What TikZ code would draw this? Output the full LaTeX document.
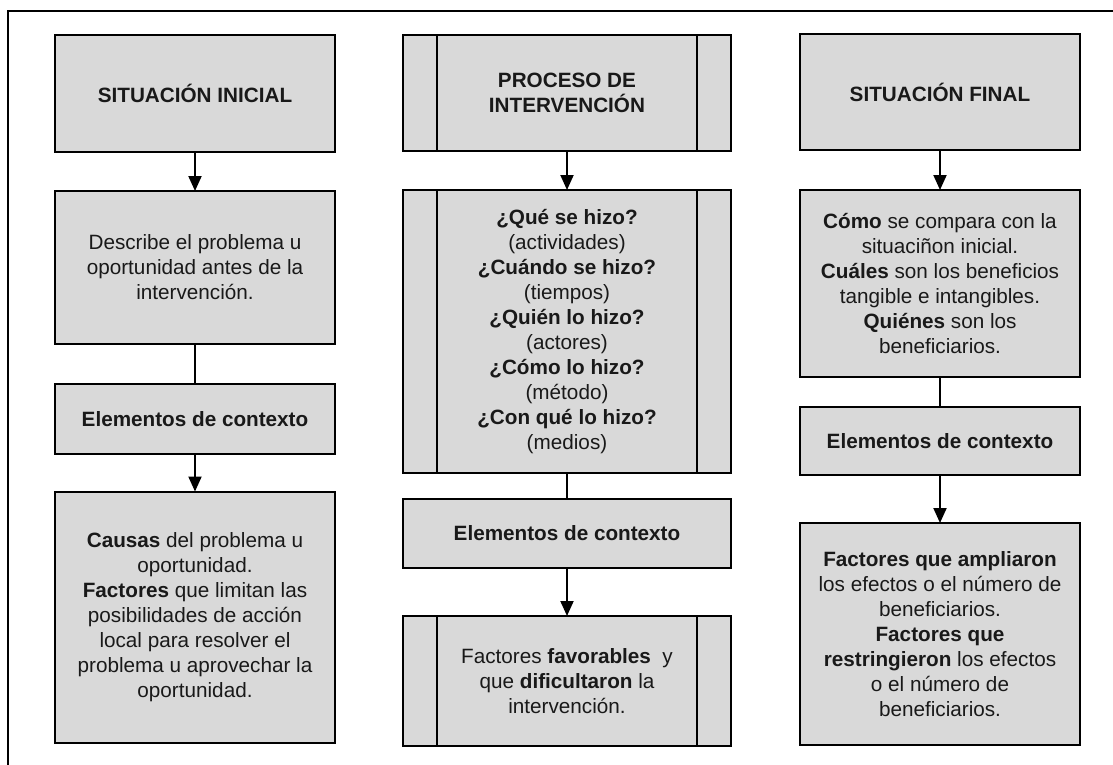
\documentclass[tikz,border=0pt]{standalone}
\usepackage{fontspec}
\setmainfont{Liberation Sans}
\usetikzlibrary{arrows.meta}
\definecolor{boxgray}{RGB}{217,217,217}
\definecolor{textcol}{RGB}{25,25,25}
\begin{document}
\begin{tikzpicture}[x=1pt,y=-1pt,
  box/.style={draw=black, line width=2pt, fill=boxgray, outer sep=0pt, inner sep=0pt,
    align=center, text=textcol, font=\fontsize{20.7}{25}\selectfont},
  narrow/.style={box, minimum width=280pt},
  plainwide/.style={box, minimum width=328pt},
  wide/.style={box, minimum width=328pt,
    path picture={
      \draw[line width=2pt] ([xshift=34pt]path picture bounding box.north west) -- ([xshift=34pt]path picture bounding box.south west);
      \draw[line width=2pt] ([xshift=-34pt]path picture bounding box.north east) -- ([xshift=-34pt]path picture bounding box.south east);
    }},
  arr/.style={line width=2pt, -{Triangle[length=15pt,width=13pt]}},
  conn/.style={line width=2pt}]
\useasboundingbox (0,0) rectangle (1113,765);
\clip (0,0) rectangle (1113,765);
\fill[white] (0,0) rectangle (1113,765);
\draw[line width=1.8pt] (8,800) -- (8,11) -- (1150,11);

% Column 1
\node[narrow, minimum height=117pt] (s1) at (195,93.5) {\textbf{SITUACIÓN INICIAL}};
\node[narrow, minimum height=153pt] (s2) at (195,267.5) {Describe el problema u\\oportunidad antes de la\\intervención.};
\node[narrow, minimum height=70pt] (s3) at (195,419) {\textbf{Elementos de contexto}};
\node[narrow, minimum height=251pt] (s4) at (195,617) {\textbf{Causas} del problema u\\oportunidad.\\\textbf{Factores} que limitan las\\posibilidades de acción\\local para resolver el\\problema u aprovechar la\\oportunidad.};

% Column 2
\node[wide, minimum height=116pt] (p1) at (567,93) {\textbf{PROCESO DE}\\\textbf{INTERVENCIÓN}};
\node[wide, minimum height=283pt] (p2) at (567,331.5) {\textbf{¿Qué se hizo?}\\(actividades)\\\textbf{¿Cuándo se hizo?}\\(tiempos)\\\textbf{¿Quién lo hizo?}\\(actores)\\\textbf{¿Cómo lo hizo?}\\(método)\\\textbf{¿Con qué lo hizo?}\\(medios)};
\node[plainwide, minimum height=69pt] (p3) at (567,533.5) {\textbf{Elementos de contexto}};
\node[wide, minimum height=130pt] (p4) at (567,681) {Factores \textbf{favorables}\ \ y\\que \textbf{dificultaron} la\\intervención.};

% Column 3
\node[narrow, minimum height=116pt] (f1) at (940,92) {\textbf{SITUACIÓN FINAL}};
\node[narrow, minimum height=187pt] (f2) at (940,283.5) {\textbf{Cómo} se compara con la\\situaciñon inicial.\\\textbf{Cuáles} son los beneficios\\tangible e intangibles.\\\textbf{Quiénes} son los\\beneficiarios.};
\node[narrow, minimum height=68pt] (f3) at (940,441) {\textbf{Elementos de contexto}};
\node[narrow, minimum height=222pt] (f4) at (940,634) {\textbf{Factores que ampliaron}\\los efectos o el número de\\beneficiarios.\\\textbf{Factores que}\\\textbf{restringieron} los efectos\\o el número de\\beneficiarios.};

% Connectors
\draw[arr] (s1) -- (s2);
\draw[conn] (s2) -- (s3);
\draw[arr] (s3) -- (s4);
\draw[arr] (p1) -- (p2);
\draw[conn] (p2) -- (p3);
\draw[arr] (p3) -- (p4);
\draw[arr] (f1) -- (f2);
\draw[conn] (f2) -- (f3);
\draw[arr] (f3) -- (f4);
\end{tikzpicture}
\end{document}
